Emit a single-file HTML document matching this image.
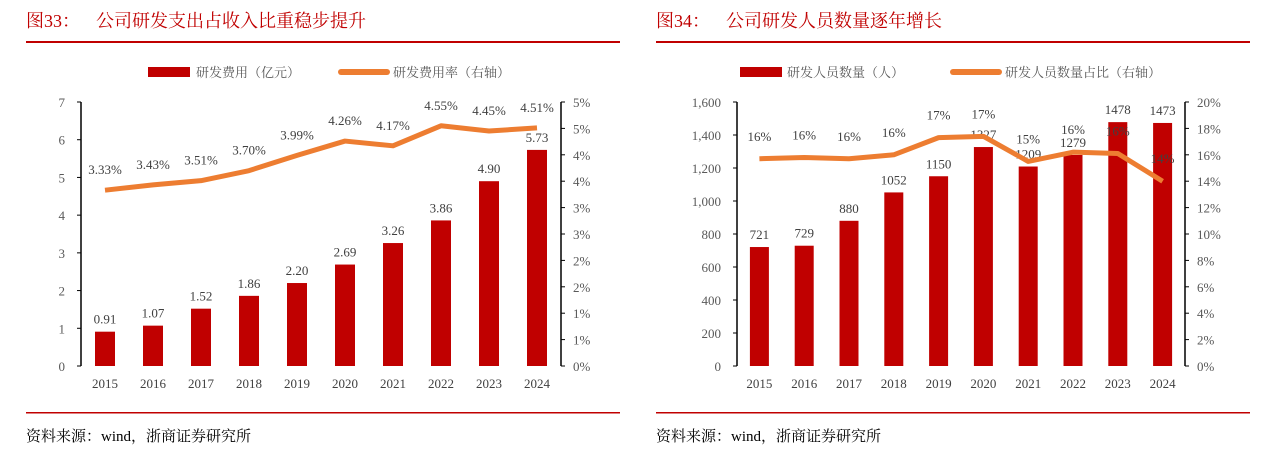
<!DOCTYPE html>
<html><head><meta charset="utf-8"><style>
body{margin:0;background:#fff;width:1263px;height:452px;overflow:hidden;font-family:"Liberation Serif","Noto Serif CJK SC",serif}
svg text{font-family:"Liberation Serif","Noto Serif CJK SC",serif}
</style></head><body>
<svg id="s" width="1263" height="452">
<text x="26" y="27" font-size="18" fill="#c00000">图33：<tspan x="96">公司研发支出占收入比重稳步提升</tspan></text>
<text x="656" y="27" font-size="18" fill="#c00000">图34：<tspan x="726">公司研发人员数量逐年增长</tspan></text>
<rect x="26" y="41" width="594" height="2" fill="#c00000"/>
<rect x="656" y="41" width="594" height="2" fill="#c00000"/>
<rect x="26" y="412" width="594" height="1.5" fill="#c00000"/>
<rect x="656" y="412" width="594" height="1.5" fill="#c00000"/>
<text x="26" y="441" font-size="15" fill="#000">资料来源：wind，浙商证券研究所</text>
<text x="656" y="441" font-size="15" fill="#000">资料来源：wind，浙商证券研究所</text>
<g>
<rect x="148" y="67" width="42" height="10" fill="#c00000"/>
<text x="196" y="77" font-size="13" fill="#595959">研发费用（亿元）</text>
<rect x="338" y="69" width="52" height="6" rx="3" fill="#ed7d31"/>
<text x="393" y="77" font-size="13" fill="#595959">研发费用率（右轴）</text>
</g>
<g>
<rect x="740" y="67" width="42" height="10" fill="#c00000"/>
<text x="787" y="77" font-size="13" fill="#595959">研发人员数量（人）</text>
<rect x="950" y="69" width="52" height="6" rx="3" fill="#ed7d31"/>
<text x="1005" y="77" font-size="13" fill="#595959">研发人员数量占比（右轴）</text>
</g>
</svg>
<script>
const years=["2015","2016","2017","2018","2019","2020","2021","2022","2023","2024"];
const rdCost=[0.91,1.07,1.52,1.86,2.20,2.69,3.26,3.86,4.90,5.73];
const rdRate=[3.33,3.43,3.51,3.70,3.99,4.26,4.17,4.55,4.45,4.51];
const leftTicksL=["0","1","2","3","4","5","6","7"];
const rightTicksL=["0%","1%","1%","2%","2%","3%","3%","4%","4%","5%","5%"];
const staff=[721,729,880,1052,1150,1327,1209,1279,1478,1473];
const staffPct=[15.7,15.8,15.7,16.0,17.3,17.4,15.5,16.2,16.1,14.0];
const staffPctLbl=["16%","16%","16%","16%","17%","17%","15%","16%","16%","14%"];
const leftTicksR=["0","200","400","600","800","1,000","1,200","1,400","1,600"];
const rightTicksR=["0%","2%","4%","6%","8%","10%","12%","14%","16%","18%","20%"];
const NS="http://www.w3.org/2000/svg",svg=document.getElementById('s');
function mk(t,a,txt){const e=document.createElementNS(NS,t);for(const k in a)e.setAttribute(k,a[k]);if(txt!=null)e.textContent=txt;svg.appendChild(e);return e;}
function chart(o){
 const top=102,bot=366,n=o.cats.length,step=(o.x1-o.x0)/n;
 const xC=i=>o.x0+step*(i+0.5);
 const yL=v=>bot-(v/o.lmax)*(bot-top);
 const yR=v=>bot-(v/o.rmax)*(bot-top);
 let e;
 o.lt.forEach((t,i)=>{const y=bot-i*(bot-top)/(o.lt.length-1);
  e=mk('text',{x:o.x0-16,y:y+5,'font-size':13,fill:'#595959','text-anchor':'end'},t);
  
  
  mk('line',{x1:o.x0-4,x2:o.x0,y1:y,y2:y,stroke:'#000'});});
 o.rt.forEach((t,i)=>{const y=bot-i*(bot-top)/(o.rt.length-1);
  e=mk('text',{x:o.x1+12,y:y+5,'font-size':13,fill:'#595959'},t);
  
  
  mk('line',{x1:o.x1,x2:o.x1+4,y1:y,y2:y,stroke:'#000'});});
 mk('line',{x1:o.x0,x2:o.x0,y1:top,y2:bot,stroke:'#000','stroke-width':1.5});
 mk('line',{x1:o.x1,x2:o.x1,y1:top,y2:bot,stroke:'#000','stroke-width':1.5});
 o.cats.forEach((c,i)=>{
  e=mk('text',{x:xC(i),y:bot+22,'font-size':13,fill:'#404040','text-anchor':'middle'},c);
  
  
  const bw=o.bw,y=yL(o.bars[i]);
  e=mk('rect',{x:xC(i)-bw/2,y:y,width:bw,height:bot-y,fill:'#c00000'});
  
  
  e=mk('text',{x:xC(i),y:y-8,'font-size':13,fill:'#404040','text-anchor':'middle'},o.barLbl(o.bars[i]));
  
  
 });
 const pts=o.line.map((v,i)=>xC(i)+','+yR(v)).join(' ');
 e=mk('polyline',{points:pts,fill:'none',stroke:'#ed7d31','stroke-width':5,'stroke-linejoin':'round'});
 
 
 o.line.forEach((v,i)=>{
  e=mk('text',{x:xC(i),y:yR(v)-o.loff,'font-size':13,fill:'#404040','text-anchor':'middle'},o.lineLbl(i));
  
  
 });
}
chart({x0:81,x1:561,cats:years,bars:rdCost,line:rdRate,lmax:7,rmax:5,lt:leftTicksL,rt:rightTicksL,bw:20,loff:16,
 barLbl:v=>v.toFixed(2),lineLbl:i=>rdRate[i].toFixed(2)+'%'});
chart({x0:737,x1:1185,cats:years,bars:staff,line:staffPct,lmax:1600,rmax:20,lt:leftTicksR,rt:rightTicksR,bw:19,loff:18,
 barLbl:v=>String(v),lineLbl:i=>staffPctLbl[i]});
</script>
</body></html>
